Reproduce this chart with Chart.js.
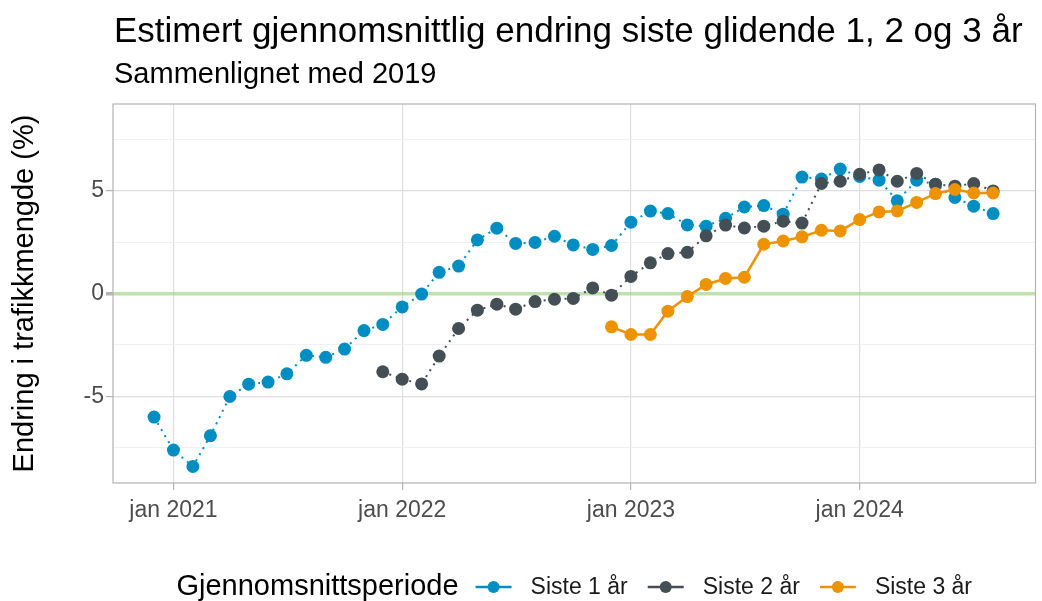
<!DOCTYPE html>
<html>
<head>
<meta charset="utf-8">
<script src="https://cdn.jsdelivr.net/npm/chart.js@4/dist/chart.umd.min.js"></script>
<style>
  body { margin: 0; background: #fff; }
  #wrap { width: 1042px; height: 601px; }
</style>
</head>
<body>
<div id="wrap"><canvas id="chart" width="1042" height="601"></canvas></div>
<script>
const months = [
  "2020-12",
  "2021-01", "2021-02", "2021-03", "2021-04", "2021-05", "2021-06",
  "2021-07", "2021-08", "2021-09", "2021-10", "2021-11", "2021-12",
  "2022-01", "2022-02", "2022-03", "2022-04", "2022-05", "2022-06",
  "2022-07", "2022-08", "2022-09", "2022-10", "2022-11", "2022-12",
  "2023-01", "2023-02", "2023-03", "2023-04", "2023-05", "2023-06",
  "2023-07", "2023-08", "2023-09", "2023-10", "2023-11", "2023-12",
  "2024-01", "2024-02", "2024-03", "2024-04", "2024-05", "2024-06",
  "2024-07", "2024-08",
];

const siste1 = [
  -6.0,
  -7.6, -8.4, -6.9, -5.0, -4.4, -4.3, -3.9, -3.0, -3.1, -2.7, -1.8, -1.5,
  -0.65, -0.03, 1.03, 1.33, 2.6, 3.17, 2.43, 2.48, 2.78, 2.36, 2.14, 2.33,
  3.46, 4.0, 3.88, 3.33, 3.27, 3.65, 4.2, 4.27, 3.85, 5.65, 5.56, 6.04,
  5.68, 5.5, 4.5, 5.5, 5.3, 4.66, 4.24, 3.88,
];

const siste2 = [
  null,
  null, null, null, null, null, null, null, null, null, null, null, -3.8,
  -4.16, -4.39, -3.04, -1.7, -0.81, -0.52, -0.76, -0.39, -0.28, -0.24, 0.27, -0.08,
  0.83, 1.49, 1.94, 2.0, 2.8, 3.32, 3.18, 3.27, 3.51, 3.42, 5.34, 5.45,
  5.79, 6.0, 5.45, 5.83, 5.31, 5.21, 5.34, 4.98,
];

const siste3 = [
  null,
  null, null, null, null, null, null, null, null, null, null, null, null,
  null, null, null, null, null, null, null, null, null, null, null, -1.62,
  -1.99, -1.99, -0.86, -0.15, 0.44, 0.73, 0.79, 2.39, 2.55, 2.75, 3.07, 3.04,
  3.59, 3.96, 4.01, 4.42, 4.85, 5.05, 4.88, 4.88,
];

const xTickMonths = ["2021-01", "2022-01", "2023-01", "2024-01"];
const yTicks = [-7.5, -5, -2.5, 0, 2.5, 5, 7.5];

const seriesNames = ["Siste 1 år", "Siste 2 år", "Siste 3 år"];
const seriesColors = ["#008ec2", "#444f55", "#ed9300"];

const FONT = "'Liberation Sans', Arial, Helvetica, sans-serif";
Chart.defaults.font.family = FONT;

// days since 1 jan 2021
function dayOf(m) {
  const [y, mo] = m.split("-").map(Number);
  return (Date.UTC(y, mo - 1, 1) - Date.UTC(2021, 0, 1)) / 86400000;
}

function points(values) {
  return months
    .map((m, i) => ({ x: dayOf(m), y: values[i] }))
    .filter((p) => p.y !== null);
}

function monthLabel(value) {
  const m = xTickMonths.find((t) => dayOf(t) === value);
  return m ? "jan " + m.slice(0, 4) : "";
}

const decorations = {
  id: "decorations",
  afterDraw(chart) {
    const { ctx, chartArea } = chart;
    const a = chartArea;
    ctx.save();

    // panel border
    ctx.strokeStyle = "#b3b3b3";
    ctx.lineWidth = 1.2;
    ctx.strokeRect(a.left, a.top, a.right - a.left, a.bottom - a.top);

    // titles
    ctx.fillStyle = "#000";
    ctx.textBaseline = "alphabetic";
    ctx.textAlign = "left";
    ctx.font = "35px " + FONT;
    ctx.fillText("Estimert gjennomsnittlig endring siste glidende 1, 2 og 3 år", a.left + 1, 42);
    ctx.font = "29px " + FONT;
    ctx.fillText("Sammenlignet med 2019", a.left + 1, 83);

    // legend
    const legendTitle = "Gjennomsnittsperiode";
    ctx.font = "29px " + FONT;
    const titleW = ctx.measureText(legendTitle).width;
    ctx.font = "23px " + FONT;
    const labelW = seriesNames.map((n) => ctx.measureText(n).width);
    const keyW = 36, gapTitle = 17, gapKey = 19, gapItem = 20;
    let total = titleW + gapTitle;
    labelW.forEach((w, i) => {
      total += keyW + gapKey + w + (i < labelW.length - 1 ? gapItem : 0);
    });
    let x = (a.left + a.right) / 2 - total / 2;
    const cy = 587;
    ctx.textBaseline = "middle";
    ctx.font = "29px " + FONT;
    ctx.fillStyle = "#000";
    ctx.fillText(legendTitle, x, cy);
    x += titleW + gapTitle;
    seriesNames.forEach((name, i) => {
      ctx.strokeStyle = seriesColors[i];
      ctx.lineWidth = 2.5;
      ctx.beginPath();
      ctx.moveTo(x, cy);
      ctx.lineTo(x + keyW, cy);
      ctx.stroke();
      ctx.fillStyle = seriesColors[i];
      ctx.beginPath();
      ctx.arc(x + keyW / 2, cy, 6, 0, Math.PI * 2);
      ctx.fill();
      x += keyW + gapKey;
      ctx.font = "23px " + FONT;
      ctx.fillStyle = "#1a1a1a";
      ctx.fillText(name, x, cy + 1);
      x += labelW[i] + gapItem;
    });

    ctx.restore();
  },
};

const chart = new Chart(document.getElementById("chart"), {
  type: "line",
  data: {
    datasets: [
      {
        label: seriesNames[0],
        data: points(siste1),
        borderColor: seriesColors[0],
        backgroundColor: seriesColors[0],
        borderWidth: 2,
        borderDash: [2, 5],
        pointRadius: 6.5,
        pointBorderWidth: 0,
        order: 3,
      },
      {
        label: seriesNames[1],
        data: points(siste2),
        borderColor: seriesColors[1],
        backgroundColor: seriesColors[1],
        borderWidth: 2,
        borderDash: [2, 5],
        pointRadius: 6.5,
        pointBorderWidth: 0,
        order: 2,
      },
      {
        label: seriesNames[2],
        data: points(siste3),
        borderColor: seriesColors[2],
        backgroundColor: seriesColors[2],
        borderWidth: 2.5,
        pointRadius: 6.5,
        pointBorderWidth: 0,
        order: 1,
      },
    ],
  },
  options: {
    responsive: false,
    animation: false,
    layout: { padding: { top: 104, right: 1, bottom: 78, left: 0 } },
    plugins: {
      legend: { display: false },
      title: { display: false },
      tooltip: { enabled: false },
    },
    scales: {
      x: {
        type: "linear",
        min: -96.5,
        max: 1375.6,
        afterFit: (s) => { s.height = 40; },
        afterBuildTicks: (s) => {
          s.ticks = xTickMonths.map((m) => ({ value: dayOf(m) }));
        },
        border: { display: false },
        grid: { color: "#dedede", lineWidth: 1.2, tickLength: 7, tickColor: "#b3b3b3" },
        ticks: {
          callback: (v) => monthLabel(v),
          color: "#4d4d4d",
          font: { size: 23 },
          padding: 7,
          maxRotation: 0,
          autoSkip: false,
        },
      },
      y: {
        min: -9.2,
        max: 9.2,
        afterFit: (s) => { s.width = 113; },
        afterBuildTicks: (s) => {
          s.ticks = yTicks.map((v) => ({ value: v }));
        },
        border: { display: false },
        grid: {
          color: (c) => c.tick.value === 0 ? "rgba(140, 200, 110, 0.55)" :
            (c.tick.value % 5 === 0 ? "#dedede" : "#ededed"),
          lineWidth: (c) => c.tick.value === 0 ? 3.5 : (c.tick.value % 5 === 0 ? 1.2 : 0.8),
          tickLength: 7,
          tickColor: (c) => c.tick.value % 5 === 0 ? "#b3b3b3" : "rgba(0,0,0,0)",
        },
        ticks: {
          callback: (v) => (v % 5 === 0 ? String(v) : ""),
          color: "#4d4d4d",
          font: { size: 23 },
          padding: 2,
          autoSkip: false,
        },
        title: {
          display: true,
          text: "Endring i trafikkmengde (%)",
          color: "#000",
          font: { size: 29 },
          padding: { top: 8, bottom: 0 },
        },
      },
    },
  },
  plugins: [decorations],
});
</script>
</body>
</html>
